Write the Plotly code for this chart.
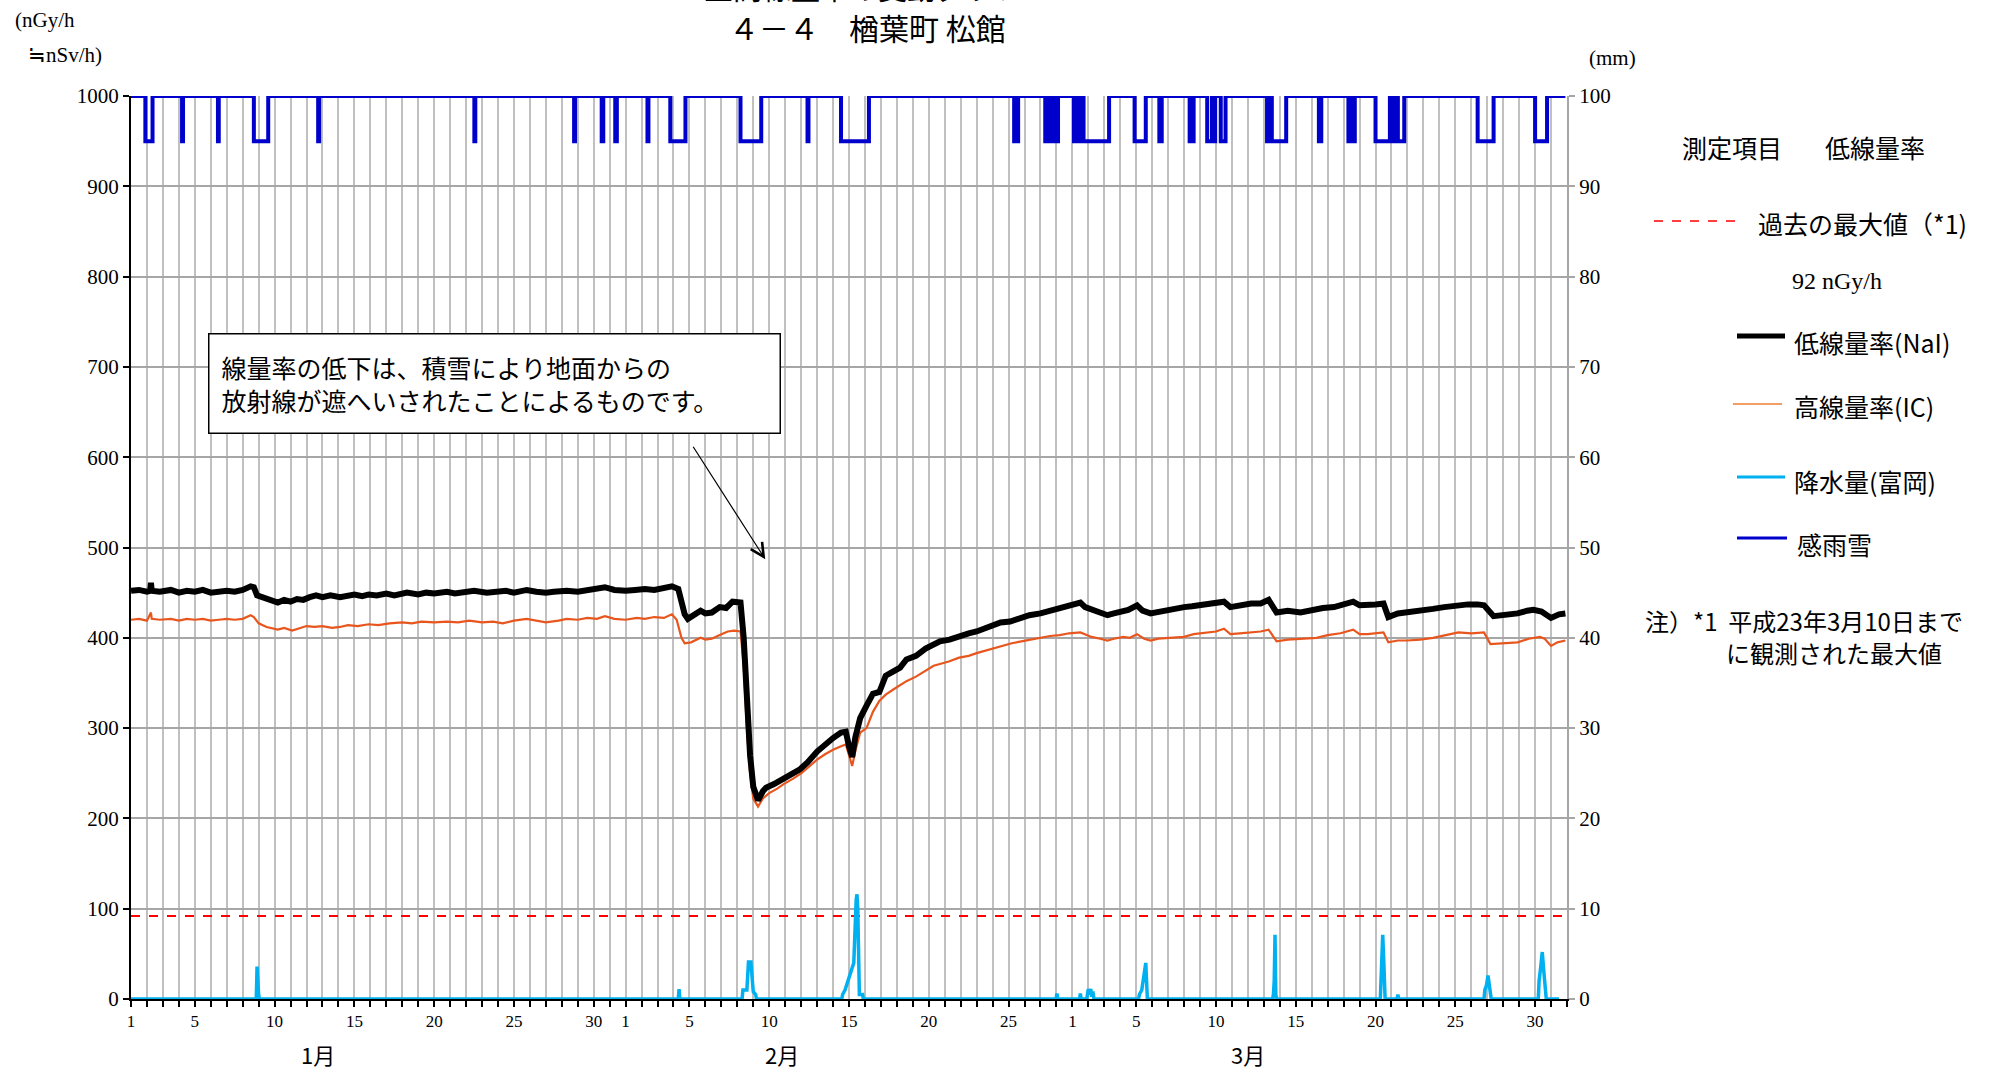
import plotly.graph_objects as go

# ---------------- data (x = days since Jan 1 00:00) ----------------
nai_t = [0.0, 0.5, 1.0, 1.2, 1.25, 1.3, 1.8, 2.5, 3.0, 3.5, 4.0, 4.5, 5.0, 5.5, 6.0, 6.5, 7.0, 7.5, 7.7,
         7.9, 8.3, 8.7, 9.2, 9.6, 10.0, 10.4, 10.8, 11.2, 11.6, 12.0, 12.5, 13.1, 13.6, 14.0, 14.5, 14.9,
         15.4, 16.0, 16.5, 17.0, 17.3, 18.0, 18.5, 19.0, 19.8, 20.3, 21.0, 21.5, 22.3, 23.0, 23.5, 24.0,
         24.8, 25.4, 26.0, 26.5, 27.3, 28.0, 28.6, 29.2, 29.7, 30.3, 31.0, 31.6, 32.2, 32.8, 33.3, 33.9,
         34.3, 34.5, 34.7, 34.9, 35.2, 35.7, 36.0, 36.4, 36.9, 37.3, 37.7, 38.0, 38.2, 38.4, 38.6, 38.8,
         39.0, 39.3, 39.6, 39.8, 40.3, 40.9, 41.4, 41.9, 42.4, 43.0, 43.5, 44.0, 44.5, 44.8, 45.0, 45.2,
         45.4, 45.7, 46.1, 46.5, 46.9, 47.3, 47.7, 48.2, 48.6, 49.2, 49.8, 50.3, 50.7, 51.3, 51.9, 52.5,
         53.0, 53.4, 54.0, 54.5, 55.1, 55.7, 56.3, 57.0, 57.6, 58.1, 58.6, 59.0, 59.5, 59.8, 60.2, 60.75,
         61.2, 61.6, 62.0, 62.5, 63.05, 63.4, 63.9, 64.4, 64.9, 65.5, 66.0, 66.5, 67.0, 67.8, 68.5, 68.9,
         69.5, 70.2, 70.8, 71.3, 71.8, 72.5, 73.3, 74.0, 74.7, 75.4, 76.0, 76.6, 77.0, 77.5, 78.0, 78.5,
         78.8, 79.4, 80.0, 80.8, 81.6, 82.3, 83.0, 83.8, 84.4, 84.8, 85.4, 86.1, 86.9, 87.5, 87.9, 88.4,
         89.0, 89.5, 89.9]
nai_v = [452, 453, 451, 452, 461, 452, 451, 453, 450, 452, 451, 453, 450, 451, 452, 451, 453, 457, 456,
         447, 444, 441, 439, 442, 440, 443, 442, 445, 447, 445, 447, 445, 446, 448, 446, 448,
         447, 449, 447, 448, 450, 448, 450, 449, 451, 449, 451, 452, 450, 451, 452, 450,
         453, 451, 450, 451, 452, 451, 453, 454, 456, 453, 452, 453, 454, 453, 455, 457,
         454, 440, 426, 421, 424, 430, 427, 428, 434, 433, 440, 440, 439, 400, 330, 270,
         235, 220, 230, 234, 238, 245, 249, 254, 262, 274, 282, 289, 295, 296, 280, 268,
         290, 311, 325, 338, 340, 358, 362, 367, 376, 380, 388, 392, 396, 398, 402, 405,
         407, 410, 413, 417, 418, 422, 425, 427, 430, 433, 435, 436, 439, 434, 431, 428,
         425, 427, 429, 431, 436, 430, 427, 429, 430, 433, 434, 435, 436, 437, 440, 434,
         436, 438, 438, 442, 428, 430, 428, 431, 433, 434, 437, 440, 436, 436, 437, 438,
         423, 427, 428, 430, 432, 434, 436, 437, 437, 436, 424, 425, 427, 430, 431, 429,
         422, 426, 427]

ic_t = [0.0, 0.5, 1.0, 1.25, 1.3, 1.8, 2.5, 3.0, 3.5, 4.0, 4.5, 5.0, 5.5, 6.0, 6.5, 7.0, 7.5, 7.7,
        8.0, 8.5, 9.2, 9.6, 10.1, 10.5, 11.0, 11.5, 12.0, 12.6, 13.1, 13.6, 14.2, 14.9, 15.5, 16.2,
        17.0, 17.6, 18.2, 19.0, 19.8, 20.5, 21.2, 22.0, 22.7, 23.3, 24.0, 24.8, 25.5, 26.0, 26.8,
        27.3, 28.0, 28.6, 29.2, 29.7, 30.3, 31.0, 31.7, 32.2, 32.8, 33.4, 33.9, 34.2, 34.5, 34.7,
        35.1, 35.7, 36.0, 36.4, 36.9, 37.4, 37.8, 38.2, 38.4, 38.6, 38.8, 39.0, 39.3, 39.6, 40.0,
        40.5, 40.9, 41.5, 42.0, 42.5, 43.0, 43.5, 44.0, 44.5, 44.8, 45.0, 45.2, 45.4, 45.7, 46.1,
        46.5, 46.9, 47.3, 47.8, 48.2, 48.6, 49.2, 49.8, 50.3, 50.7, 51.3, 51.9, 52.5, 53.0, 53.4,
        54.0, 54.6, 55.2, 55.8, 56.4, 57.0, 57.6, 58.2, 58.8, 59.5, 59.8, 60.2, 60.75, 61.2, 61.6,
        62.2, 62.6, 63.05, 63.5, 63.9, 64.4, 65.0, 66.0, 66.6, 67.4, 68.0, 68.5, 68.9, 69.5, 70.2,
        70.8, 71.3, 71.8, 72.5, 73.3, 74.3, 75.0, 75.8, 76.6, 77.0, 77.5, 78.0, 78.5, 78.8, 79.4,
        80.0, 80.8, 81.6, 82.5, 83.2, 84.0, 84.8, 85.2, 86.0, 86.9, 87.6, 88.3, 88.6, 89.0, 89.4,
        89.9]
ic_v = [420, 421, 419, 428, 421, 420, 421, 419, 421, 420, 421, 419, 420, 421, 420, 421, 425, 423,
        416, 412, 409, 411, 408, 410, 413, 412, 413, 411, 412, 414, 413, 415, 414, 416,
        417, 416, 418, 417, 418, 417, 419, 417, 418, 416, 419, 421, 419, 417, 419,
        421, 420, 422, 421, 424, 421, 420, 422, 421, 423, 422, 426, 420, 400, 394,
        395, 400, 398, 399, 403, 407, 408, 407, 370, 300, 250, 222, 213, 222, 228,
        233, 238, 244, 250, 258, 265, 271, 276, 280, 282, 270, 258, 275, 295, 300,
        318, 330, 337, 343, 348, 352, 357, 364, 369, 371, 374, 378, 380, 383, 385,
        388, 391, 394, 396, 398, 400, 402, 403, 405, 406, 404, 401, 399, 397, 399,
        401, 400, 404, 399, 397, 399, 400, 401, 404, 406, 407, 410, 404, 405, 406,
        407, 409, 396, 398, 399, 400, 403, 405, 409, 404, 404, 405, 406, 395, 397,
        397, 398, 400, 403, 406, 405, 406, 393, 394, 395, 399, 401, 399, 391, 395,
        397]

precip_t = [0.0, 7.85, 7.9, 7.95, 8.0, 8.05, 34.3, 34.35, 34.4,
            38.3, 38.35, 38.6, 38.7, 38.85, 38.9, 39.0, 39.15, 39.2,
            44.55, 44.6, 44.75, 44.95, 45.15, 45.3, 45.45, 45.5, 45.55, 45.65, 45.85, 45.9,
            57.98, 58.03, 58.08, 59.45, 59.5, 59.55, 59.9, 59.95, 60.0, 60.05, 60.1, 60.15, 60.2,
            60.3, 60.35, 63.15, 63.2, 63.35, 63.6, 63.65, 63.7,
            71.55, 71.6, 71.65, 71.7, 71.75, 71.8,
            78.3, 78.35, 78.45, 78.5, 78.55, 78.6, 79.35, 79.4, 79.45,
            84.8, 84.85, 84.95, 85.05, 85.1, 85.2, 85.25,
            88.2, 88.25, 88.35, 88.45, 88.55, 88.65, 88.7, 89.5]
precip_v = [0, 0, 3.6, 1.0, 0.5, 0, 0, 1.1, 0,
            0, 1.0, 1.0, 4.1, 4.1, 2.5, 0.8, 0.5, 0,
            0, 0.5, 1.0, 2.0, 3.0, 4.0, 11.0, 11.6, 10.0, 0.5, 0.5, 0,
            0, 0.6, 0, 0, 0.6, 0, 0, 1.1, 1.1, 0.5, 1.1, 1.1, 0.5,
            0.6, 0, 0, 0.5, 1.0, 4.0, 0.4, 0,
            0, 0.5, 2.0, 7.1, 0.5, 0,
            0, 2.0, 7.1, 5.0, 0.5, 0, 0, 0.5, 0,
            0, 1.0, 1.5, 2.6, 2.0, 0.3, 0,
            0, 2.0, 3.5, 5.2, 3.0, 0.5, 0, 0]

# rain/snow sensor "on" periods (start day, end day)
rain_on_start = [0.9, 3.2, 5.45, 7.7, 11.73, 21.52, 27.77, 29.5, 30.35, 32.37, 33.8, 38.2, 42.4, 44.5,
                 55.35, 57.3, 57.6, 57.9, 59.1, 59.4, 59.7, 62.9, 64.45, 66.35, 67.45, 67.85, 68.3,
                 71.2, 71.5, 74.45, 76.3, 76.55, 78.0, 79.1, 79.4, 84.4, 88.0]
rain_on_end = [1.35, 3.26, 5.5, 8.6, 11.79, 21.58, 27.83, 29.6, 30.45, 32.43, 34.75, 39.5, 42.46, 46.25,
               55.6, 57.5, 57.8, 58.1, 59.3, 59.6, 61.3, 63.6, 64.6, 66.6, 67.75, 67.95, 68.6,
               71.4, 72.4, 74.6, 76.45, 76.7, 78.9, 79.3, 79.8, 85.4, 88.75]
RAIN_OFF, RAIN_ON = 1000, 950

past_max = 92
x_range = [0, 90]

month_names = ["1月", "2月", "3月"]
month_lengths = [31, 28, 31]
month_label_x = [11.7, 40.8, 70.0]
label_days = [[1, 5, 10, 15, 20, 25, 30], [1, 5, 10, 15, 20, 25], [1, 5, 10, 15, 20, 25, 30]]

# ---------------- derived ----------------
rain_x, rain_y = [0.0], [RAIN_OFF]
for s, e in zip(rain_on_start, rain_on_end):
    rain_x += [s, s, e, e]
    rain_y += [RAIN_OFF, RAIN_ON, RAIN_ON, RAIN_OFF]
rain_x.append(89.9)
rain_y.append(RAIN_OFF)

tickvals, ticktext = [], []
offset = 0
for m, n in enumerate(month_lengths):
    for d in range(1, n + 1):
        tickvals.append(offset + d - 1)
        ticktext.append(str(d) if d in label_days[m] else "")
    offset += n
tickvals.append(offset)
ticktext.append("")

# ---------------- figure ----------------
W, H = 2010, 1072
L, R, T, B = 131, 1567, 96, 999
CJK = "Noto Sans CJK JP"
SERIF = "Liberation Serif"


def px(x):
    return (x - L) / (R - L)


def py(y):
    return (B - y) / (B - T)


fig = go.Figure()
fig.add_trace(go.Scatter(x=list(x_range), y=[past_max, past_max], mode="lines",
                         line=dict(color="#FF0000", width=2, dash="dash"), yaxis="y"))
fig.add_trace(go.Scatter(x=ic_t, y=ic_v, mode="lines", line=dict(color="#E8561E", width=2.2), yaxis="y"))
fig.add_trace(go.Scatter(x=nai_t, y=nai_v, mode="lines", line=dict(color="#000000", width=6), yaxis="y"))
fig.add_trace(go.Scatter(x=rain_x, y=rain_y, mode="lines", line=dict(color="#0000CC", width=4),
                         yaxis="y", cliponaxis=False))
fig.add_trace(go.Scatter(x=precip_t, y=precip_v, mode="lines", line=dict(color="#00B0F0", width=3.5),
                         yaxis="y2", cliponaxis=False))

fig.update_layout(
    width=W, height=H, showlegend=False,
    margin=dict(l=L, r=W - R, t=T, b=H - B),
    paper_bgcolor="white", plot_bgcolor="white",
    xaxis=dict(range=x_range, tickmode="array", tickvals=tickvals, ticktext=ticktext,
               showgrid=True, gridcolor="#C0C0C0", gridwidth=2,
               ticks="outside", ticklen=6, tickwidth=2, tickcolor="black",
               showline=True, linecolor="black", linewidth=2, zeroline=False,
               tickfont=dict(family=SERIF, size=17, color="black"), tickangle=0),
    yaxis=dict(range=[0, 1000], tickvals=list(range(0, 1001, 100)), showgrid=True,
               gridcolor="#A6A6A6", gridwidth=2, ticks="outside", ticklen=6, tickwidth=2,
               tickcolor="black", showline=True, linecolor="black", linewidth=2, zeroline=False,
               tickfont=dict(family=SERIF, size=21, color="black")),
    yaxis2=dict(range=[0, 100], tickvals=list(range(0, 101, 10)), overlaying="y", side="right",
                showgrid=False, ticks="outside", ticklen=6, tickwidth=2, tickcolor="#A6A6A6",
                showline=True, linecolor="#A6A6A6", linewidth=2, zeroline=False,
                tickfont=dict(family=SERIF, size=21, color="black")),
)

ann = []


def text(x, y, s, size=24, family=CJK, xanchor="left"):
    ann.append(dict(x=px(x), y=py(y), xref="paper", yref="paper", text=s, showarrow=False,
                    xanchor=xanchor, yanchor="middle", font=dict(family=family, size=size, color="black")))


# titles
text(863, -13, "空間線量率の変動グラフ", 29, CJK, "center")
text(867, 27, "４－４　楢葉町 松館", 30, CJK, "center")
# axis units
text(13, 20, "(nGy/h", 21, SERIF)
text(26, 55, "≒nSv/h)", 21, SERIF)
text(1587, 58, "(mm)", 21, SERIF)
# month labels
for name, mx in zip(month_names, month_label_x):
    ann.append(dict(x=mx, y=py(1054), xref="x", yref="paper", text=name, showarrow=False,
                    xanchor="center", yanchor="middle", font=dict(family=CJK, size=22, color="black")))

# legend
text(1680, 147, "測定項目", 25)
text(1823, 147, "低線量率", 25)
text(1756, 223, "過去の最大値（*1)", 25)
text(1837, 281, "92 nGy/h", 24, SERIF, "center")
text(1792, 342, "低線量率(NaI)", 25)
text(1792, 406, "高線量率(IC)", 25)
text(1792, 481, "降水量(富岡)", 25)
text(1795, 544, "感雨雪", 25)
text(1643, 621, "注）*1  平成23年3月10日まで", 24)
text(1724, 652, "に観測された最大値", 24)

# snow note box and arrow
ann.append(dict(x=px(208), y=py(333), xref="paper", yref="paper",
                text="線量率の低下は、積雪により地面からの<br>放射線が遮へいされたことによるものです。",
                showarrow=False, xanchor="left", yanchor="top", align="left", valign="middle",
                width=546, height=74, borderpad=12, bordercolor="black", borderwidth=1.5,
                bgcolor="white", font=dict(family=CJK, size=25, color="black")))
ann.append(dict(x=39.75, y=487, xref="x", yref="y", text="", showarrow=True,
                ax=-73, ay=-114, arrowhead=5, arrowsize=2.2, arrowwidth=1.2, arrowcolor="black"))

fig.update_layout(annotations=ann)

shapes = []


def legline(x0, x1, y, color, width, dash="solid"):
    shapes.append(dict(type="line", xref="paper", yref="paper", x0=px(x0), x1=px(x1), y0=py(y), y1=py(y),
                       line=dict(color=color, width=width, dash=dash)))


legline(1654, 1737, 221, "#FF0000", 1.5, "dash")
legline(1737, 1785, 336, "#000000", 5)
legline(1733, 1782, 404, "#ED7D31", 1.5)
legline(1737, 1785, 477, "#00B0F0", 3)
legline(1737, 1787, 538, "#0000CC", 3)
fig.update_layout(shapes=shapes)

fig.write_html("out.html", config={"displayModeBar": False},
               post_script="document.body.style.margin='0';document.body.style.overflow='hidden';")
